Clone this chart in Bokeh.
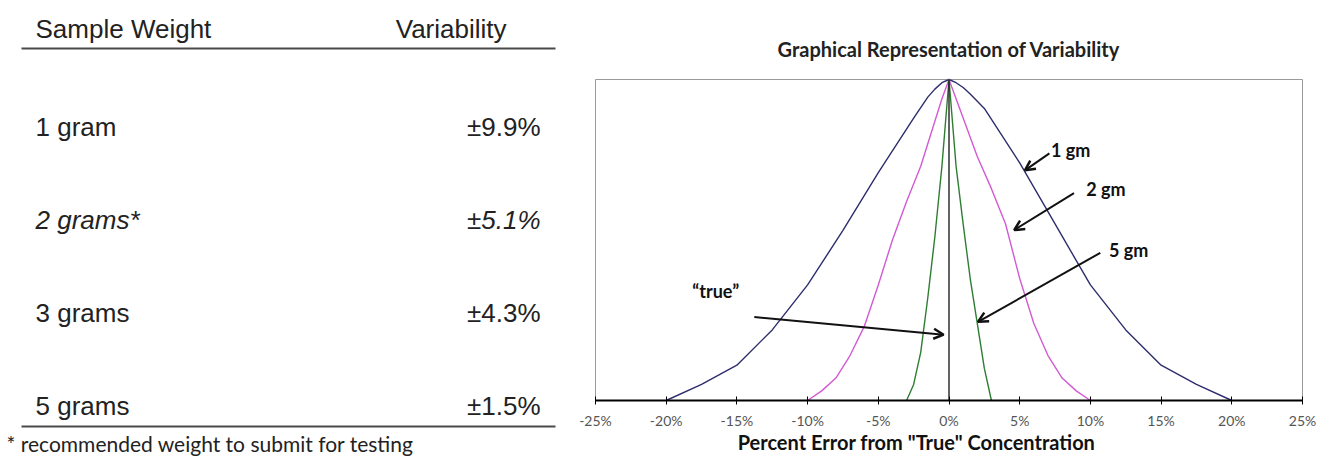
from bokeh.plotting import figure
from bokeh.models import (Range1d, Label, Arrow, OpenHead, FixedTicker,
                          PrintfTickFormatter, LinearAxis, ColumnDataSource)
from bokeh.embed import file_html
from bokeh.resources import INLINE
from bokeh.core.properties import value

# ---------------- table data ----------------
header_weight = "Sample Weight"
header_variability = "Variability"
weights = ["1 gram", "2 grams*", "3 grams", "5 grams"]
variability_pct = [9.9, 5.1, 4.3, 1.5]
recommended = ["no", "yes", "no", "no"]
footnote = "* recommended weight to submit for testing"

# ---------------- chart data ----------------
chart_title = "Graphical Representation of Variability"
x_axis_title = 'Percent Error from "True" Concentration'
x_ticks = [-25, -20, -15, -10, -5, 0, 5, 10, 15, 20, 25]

x_1gm = [-20, -17.5, -15, -12.5, -10, -7.5, -5, -2.5, -1.5, -1, -0.5, 0,
         0.5, 1, 1.5, 2.5, 5, 7.5, 10, 12.5, 15, 17.5, 20]
y_1gm = [0, 0.05, 0.11, 0.22, 0.36, 0.53, 0.71, 0.88, 0.945, 0.97, 0.99, 1.0,
         0.99, 0.975, 0.955, 0.91, 0.74, 0.55, 0.36, 0.22, 0.11, 0.05, 0]

x_2gm = [-10, -9, -8, -7, -6, -5, -4, -3, -2, -1, -0.5, 0,
         0.5, 1, 2, 3, 4, 5, 6, 7, 8, 9, 10]
y_2gm = [0, 0.03, 0.07, 0.14, 0.23, 0.36, 0.50, 0.62, 0.73, 0.87, 0.94, 1.0,
         0.94, 0.88, 0.76, 0.66, 0.55, 0.38, 0.24, 0.14, 0.07, 0.03, 0]

x_5gm = [-3, -2.5, -2, -1.5, -1, -0.5, 0, 0.5, 1, 1.5, 2, 2.5, 3]
y_5gm = [0, 0.05, 0.15, 0.32, 0.51, 0.73, 1.0, 0.73, 0.55, 0.38, 0.24, 0.10, 0]

true_value = 0
peak = 1.0

annot_texts = ["1 gm", "2 gm", "5 gm", "\u201ctrue\u201d"]
annot_text_xy = [(8.6, 0.78), (11.1, 0.66), (12.7, 0.47), (-16.5, 0.34)]
annot_arrows = [((7.1, 0.77), (5.37, 0.717)),
                ((8.84, 0.646), (4.61, 0.531)),
                ((10.7, 0.46), (2.05, 0.245)),
                ((-13.77, 0.26), (-0.38, 0.205))]

# ---------------- canvas geometry (pixels) ----------------
W, H = 1316, 457
fx0, fx1 = 595, 1302        # chart plot-area left/right
fy_top, fy_bot = 79, 400    # chart plot-area top/bottom
xmin, xmax = -25, 25

kx = (fx1 - fx0) / (xmax - xmin)
ky = (fy_bot - fy_top) / peak

p = figure(width=W, height=H, x_range=Range1d(0, W), y_range=Range1d(H, 0),
           x_axis_type=None, y_axis_type=None, output_backend="svg",
           toolbar_location=None, min_border=0)
p.min_border_left = p.min_border_right = p.min_border_top = p.min_border_bottom = 0
p.extra_x_ranges = {"pct": Range1d(xmin - fx0 / kx, xmax + (W - fx1) / kx)}
p.extra_y_ranges = {"rel": Range1d(-(H - fy_bot) / ky, peak + fy_top / ky)}
p.background_fill_color = "white"
p.border_fill_color = "white"
p.outline_line_color = None
p.grid.visible = False

C = dict(x_range_name="pct", y_range_name="rel")

# plot-area box
p.quad(left=[xmin], right=[xmax], bottom=[0], top=[peak], fill_color=None,
       line_color="#9a9a9a", line_width=1, **C)

# curves
p.line(x_1gm, y_1gm, line_color="#2d2d6e", line_width=1.4, **C)
p.line(x_2gm, y_2gm, line_color="#d25ad2", line_width=1.4, **C)
p.line(x_5gm, y_5gm, line_color="#2e7d32", line_width=1.4, **C)
p.line([true_value, true_value], [0, peak], line_color="#222", line_width=1.4, **C)

# x axis drawn at y = 0 of the chart
ax = LinearAxis(x_range_name="pct", y_range_name="rel", fixed_location=0,
                bounds=(xmin, xmax))
ax.ticker = FixedTicker(ticks=x_ticks)
ax.formatter = PrintfTickFormatter(format="%d%%")
ax.axis_line_color = "black"
ax.axis_line_width = 2
ax.major_tick_in = 4
ax.major_tick_out = 4
ax.major_tick_line_color = "black"
ax.minor_tick_line_color = None
ax.major_label_text_font = "Lato"
ax.major_label_text_font_size = "14px"
ax.major_label_text_color = "#555"
ax.major_label_standoff = 7
p.add_layout(ax, "below")

# chart title and axis title
p.text(x=[0], y=[48], text=[chart_title], x_range_name="pct",
       text_font=value("Lato"), text_font_size="20px", text_font_style="bold",
       text_align="center", text_baseline="middle", text_color="#222")
p.text(x=[-2.3], y=[441], text=[x_axis_title], x_range_name="pct",
       text_font=value("Lato"), text_font_size="20px", text_font_style="bold",
       text_align="center", text_baseline="middle", text_color="#111")

# annotations
for (tx, ty), t in zip(annot_text_xy, annot_texts):
    p.add_layout(Label(x=tx, y=ty, text=t, text_align="center",
                       text_baseline="middle", text_font="Lato",
                       text_font_size="18px", text_font_style="bold",
                       text_color="#111", **C))
for (s, e) in annot_arrows:
    p.add_layout(Arrow(end=OpenHead(size=10, line_width=2.5, line_color="#111"),
                       x_start=s[0], y_start=s[1], x_end=e[0], y_end=e[1],
                       line_width=2, line_color="#111", **C))

# ---------------- table (pixel coordinates) ----------------
name_x, value_x, header_value_x = 35, 540, 506
header_y, header_line_y = 28, 48
row0_y, row_step = 126, 93
rule_x0, rule_x1 = 21, 555
bottom_line_y = 426
footnote_x, footnote_y = 6, 443
table_font = value("Liberation Sans")

p.text(x=[name_x], y=[header_y], text=[header_weight], text_font=table_font,
       text_font_size="26px", text_align="left", text_baseline="middle",
       text_color="#222")
p.text(x=[header_value_x], y=[header_y], text=[header_variability],
       text_font=table_font, text_font_size="26px", text_align="right",
       text_baseline="middle", text_color="#222")

src = ColumnDataSource(dict(
    y=[row0_y + i * row_step for i in range(len(weights))],
    name=weights,
    val=["\u00b1%.1f%%" % v for v in variability_pct],
    style=["italic" if r == "yes" else "normal" for r in recommended],
))
p.text(x=name_x, y="y", text="name", source=src, text_font=table_font,
       text_font_size="26px", text_font_style="style", text_align="left",
       text_baseline="middle", text_color="#222")
p.text(x=value_x, y="y", text="val", source=src, text_font=table_font,
       text_font_size="26px", text_font_style="style", text_align="right",
       text_baseline="middle", text_color="#222")

p.segment(x0=[rule_x0, rule_x0], y0=[header_line_y, bottom_line_y],
          x1=[rule_x1, rule_x1], y1=[header_line_y, bottom_line_y],
          line_width=2, line_color="#4a4a4a")
p.text(x=[footnote_x], y=[footnote_y], text=[footnote], text_font=value("Lato"),
       text_font_size="21px", text_align="left", text_baseline="middle",
       text_color="#222")

open("out.html", "w").write(file_html(p, INLINE))
